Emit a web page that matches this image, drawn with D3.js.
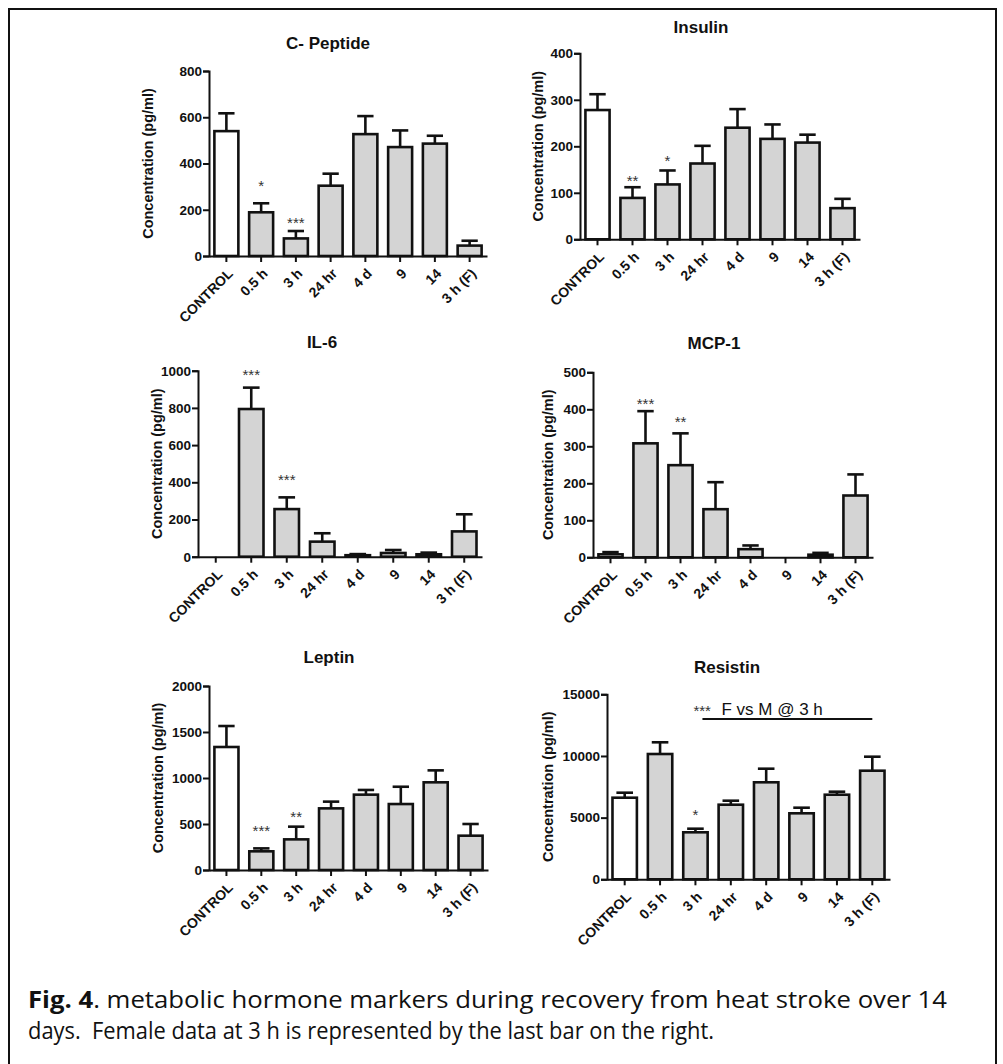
<!DOCTYPE html>
<html>
<head>
<meta charset="utf-8">
<script src="https://cdn.jsdelivr.net/npm/d3@7"></script>
<style>
  html, body { margin: 0; padding: 0; background: #fff; }
  svg { display: block; }
</style>
</head>
<body>
<script>
// ---------------- DATA ----------------
const categories = ["CONTROL", "0.5 h", "3 h", "24 hr", "4 d", "9", "14", "3 h (F)"];

const cPeptideMean = [540, 189, 76, 304, 527, 471, 486, 45];
const cPeptideErr  = [77, 39, 32, 52, 78, 72, 34, 21];
const cPeptideTicks = [0, 200, 400, 600, 800];
const cPeptideSig = ["", "*", "***", "", "", "", "", ""];
const cPeptideSigAt = [0, 321, 160, 0, 0, 0, 0, 0];

const insulinMean = [278, 89, 118, 163, 240, 216, 208, 67];
const insulinErr  = [34, 23, 30, 38, 40, 31, 17, 20];
const insulinTicks = [0, 100, 200, 300, 400];
const insulinSig = ["", "**", "*", "", "", "", "", ""];
const insulinSigAt = [0, 135, 178, 0, 0, 0, 0, 0];

const il6Mean = [0, 794, 256, 81, 8, 20, 13, 136];
const il6Err  = [0, 115, 63, 45, 6, 16, 9, 92];
const il6Ticks = [0, 200, 400, 600, 800, 1000];
const il6Sig = ["", "***", "***", "", "", "", "", ""];
const il6SigAt = [0, 1000, 434, 0, 0, 0, 0, 0];

const mcp1Mean = [8, 308, 249, 130, 22, 0, 7, 167];
const mcp1Err  = [6, 87, 86, 73, 10, 0, 5, 57];
const mcp1Ticks = [0, 100, 200, 300, 400, 500];
const mcp1Sig = ["", "***", "**", "", "", "", "", ""];
const mcp1SigAt = [0, 425, 376, 0, 0, 0, 0, 0];

const leptinMean = [1337, 203, 333, 670, 819, 717, 953, 373];
const leptinErr  = [228, 32, 138, 73, 51, 188, 130, 127];
const leptinTicks = [0, 500, 1000, 1500, 2000];
const leptinSig = ["", "***", "**", "", "", "", "", ""];
const leptinSigAt = [0, 471, 616, 0, 0, 0, 0, 0];

const resistinMean = [6616, 10159, 3811, 6049, 7865, 5351, 6859, 8805];
const resistinErr  = [406, 949, 292, 324, 1103, 455, 244, 1136];
const resistinTicks = [0, 5000, 10000, 15000];
const resistinSig = ["", "", "*", "", "", "", "", ""];
const resistinSigAt = [0, 0, 5538, 0, 0, 0, 0, 0];

const resistinNote = "F vs M @ 3 h";
const resistinNoteStars = "***";
const resistinNoteAt = 13000;

const yAxisLabel = "Concentration (pg/ml)";
const captionBold = "Fig. 4";
const captionLine1 = ". metabolic hormone markers during recovery from heat stroke over 14";
const captionLine2 = "days.\u00a0 Female data at 3 h is represented by the last bar on the right.";

// ---------------- LAYOUT ----------------
const panels = [
  { title: "C- Peptide", mean: cPeptideMean, err: cPeptideErr, ticks: cPeptideTicks, sig: cPeptideSig, sigAt: cPeptideSigAt,
    x0: 209, x1: 487, y0: 256, y1: 71, titleX: 328, titleY: 49, labelX: 148 },
  { title: "Insulin", mean: insulinMean, err: insulinErr, ticks: insulinTicks, sig: insulinSig, sigAt: insulinSigAt,
    x0: 580, x1: 860, y0: 239.3, y1: 53.3, titleX: 701, titleY: 33, labelX: 538 },
  { title: "IL-6", mean: il6Mean, err: il6Err, ticks: il6Ticks, sig: il6Sig, sigAt: il6SigAt,
    x0: 198, x1: 482, y0: 556.7, y1: 370.7, titleX: 322, titleY: 348, labelX: 157 },
  { title: "MCP-1", mean: mcp1Mean, err: mcp1Err, ticks: mcp1Ticks, sig: mcp1Sig, sigAt: mcp1SigAt,
    x0: 593, x1: 873, y0: 557.3, y1: 372.3, titleX: 714, titleY: 349, labelX: 548 },
  { title: "Leptin", mean: leptinMean, err: leptinErr, ticks: leptinTicks, sig: leptinSig, sigAt: leptinSigAt,
    x0: 209, x1: 488, y0: 870, y1: 686, titleX: 329, titleY: 663, labelX: 158 },
  { title: "Resistin", mean: resistinMean, err: resistinErr, ticks: resistinTicks, sig: resistinSig, sigAt: resistinSigAt,
    x0: 607, x1: 890, y0: 879.3, y1: 694.3, titleX: 727, titleY: 673, labelX: 548 }
];

const W = 1003, H = 1064;
const FONT = "'Liberation Sans', Arial, Helvetica, sans-serif";
const svg = d3.select("body").append("svg").attr("width", W).attr("height", H);
svg.append("rect").attr("width", W).attr("height", H).attr("fill", "#fff");

// frame
svg.append("path")
  .attr("d", "M9,1064 L9,9 L996,9 L996,1064")
  .attr("fill", "none").attr("stroke", "#111").attr("stroke-width", 2);

function drawPanel(p) {
  const g = svg.append("g");
  const x = d3.scaleBand().domain(categories).range([p.x0, p.x1]).paddingInner(0.31).paddingOuter(0.155);
  const maxT = p.ticks[p.ticks.length - 1];
  const y = d3.scaleLinear().domain([0, maxT]).range([p.y0, p.y1]);

  g.append("text").attr("x", p.titleX).attr("y", p.titleY)
    .attr("text-anchor", "middle").attr("font-family", FONT).attr("font-weight", "bold")
    .attr("font-size", 17).attr("fill", "#111").text(p.title);

  g.append("text")
    .attr("transform", `translate(${p.labelX},${(p.y0 + p.y1) / 2}) rotate(-90)`)
    .attr("text-anchor", "middle").attr("dy", "0.35em")
    .attr("font-family", FONT).attr("font-weight", "bold").attr("font-size", 14.5)
    .attr("fill", "#111").text(yAxisLabel);

  const idxs = d3.range(categories.length);
  g.selectAll("rect.bar").data(idxs.filter(i => p.mean[i] > 0)).join("rect")
    .attr("x", i => x(categories[i]))
    .attr("y", i => y(p.mean[i]))
    .attr("width", x.bandwidth())
    .attr("height", i => y(0) - y(p.mean[i]))
    .attr("fill", i => i === 0 ? "#ffffff" : "#d4d4d4")
    .attr("stroke", "#111").attr("stroke-width", 2.6);

  const capW = x.bandwidth() * 0.68;
  idxs.filter(i => p.err[i] > 0).forEach(i => {
    const cx = x(categories[i]) + x.bandwidth() / 2;
    g.append("line").attr("x1", cx).attr("x2", cx)
      .attr("y1", y(p.mean[i])).attr("y2", y(p.mean[i] + p.err[i]))
      .attr("stroke", "#111").attr("stroke-width", 2.6);
    g.append("line").attr("x1", cx - capW / 2).attr("x2", cx + capW / 2)
      .attr("y1", y(p.mean[i] + p.err[i])).attr("y2", y(p.mean[i] + p.err[i]))
      .attr("stroke", "#111").attr("stroke-width", 2.6);
  });

  idxs.filter(i => p.sig[i]).forEach(i => {
    const cx = x(categories[i]) + x.bandwidth() / 2;
    g.append("text").attr("x", cx).attr("y", y(p.sigAt[i]))
      .attr("dy", "0.6em").attr("text-anchor", "middle")
      .attr("font-family", FONT).attr("font-size", 15).attr("fill", "#333")
      .text(p.sig[i]);
  });

  const yAx = g.append("g").attr("transform", `translate(${p.x0},0)`)
    .call(d3.axisLeft(y).tickValues(p.ticks).tickFormat(d3.format("d")).tickSize(6).tickPadding(1));
  yAx.select(".domain").attr("stroke", "#111").attr("stroke-width", 2);
  yAx.selectAll(".tick line").attr("stroke", "#111").attr("stroke-width", 2);
  yAx.selectAll(".tick text").attr("font-family", FONT).attr("font-weight", "bold")
    .attr("font-size", 13.5).attr("fill", "#111");

  const xAx = g.append("g").attr("transform", `translate(0,${p.y0})`)
    .call(d3.axisBottom(x).tickSize(6).tickSizeOuter(0));
  xAx.select(".domain").attr("stroke", "#111").attr("stroke-width", 2);
  xAx.selectAll(".tick line").attr("stroke", "#111").attr("stroke-width", 2);
  xAx.selectAll(".tick text")
    .attr("font-family", FONT).attr("font-weight", "bold").attr("font-size", 14).attr("fill", "#111")
    .attr("text-anchor", "end")
    .attr("x", 0).attr("y", 0).attr("dy", "0.35em")
    .attr("transform", "translate(4,15) rotate(-45)");

  return { g, x, y };
}

const drawn = panels.map(drawPanel);

// Resistin annotation
(function () {
  const { g, x, y } = drawn[5];
  const bw = x.bandwidth();
  const xs = x(categories[2]) + bw / 2 + 7;
  const xe = x(categories[7]) + bw / 2;
  const ly = y(resistinNoteAt);
  g.append("line").attr("x1", xs).attr("x2", xe).attr("y1", ly).attr("y2", ly)
    .attr("stroke", "#111").attr("stroke-width", 2);
  g.append("text").attr("x", xs - 9).attr("y", ly - 12).attr("dy", "0.6em")
    .attr("font-family", FONT).attr("font-size", 15).attr("fill", "#333").text(resistinNoteStars);
  g.append("text").attr("x", xs + 19).attr("y", ly - 4)
    .attr("font-family", FONT).attr("font-size", 17).attr("fill", "#111").text(resistinNote);
})();

// Caption
const CAPFONT = "'Open Sans', Lato, sans-serif";
const cap1 = svg.append("text").attr("x", 28).attr("y", 1008)
  .attr("font-family", CAPFONT).attr("font-size", 24).attr("fill", "#111")
  .attr("textLength", 919).attr("lengthAdjust", "spacingAndGlyphs");
cap1.append("tspan").attr("font-weight", "bold").text(captionBold);
cap1.append("tspan").text(captionLine1);
svg.append("text").attr("x", 28).attr("y", 1039)
  .attr("font-family", CAPFONT).attr("font-size", 24).attr("fill", "#111")
  .attr("textLength", 686).attr("lengthAdjust", "spacingAndGlyphs")
  .text(captionLine2);
</script>
</body>
</html>
